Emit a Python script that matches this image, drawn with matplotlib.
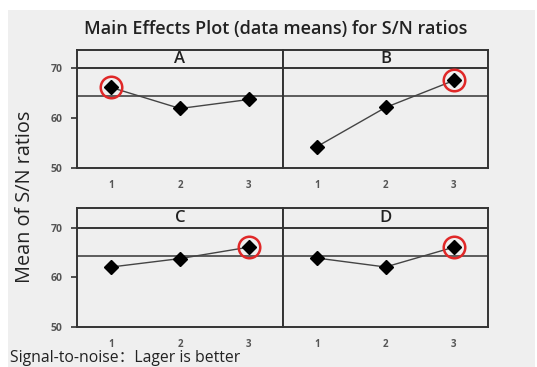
import matplotlib
matplotlib.use('Agg')
import matplotlib.pyplot as plt
from matplotlib.patches import Rectangle

# values
factors = ['A', 'B', 'C', 'D']
levels = [1, 2, 3]
sn_means = {
    'A': [66.1, 61.9, 63.7],
    'B': [54.3, 62.1, 67.5],
    'C': [62.1, 63.8, 66.1],
    'D': [63.9, 62.1, 66.1],
}
best_level = {'A': 1, 'B': 3, 'C': 3, 'D': 3}
grand_mean = 64.4
y_ticks = [50, 60, 70]

W, H = 537, 367
bg = '#efefef'
edge = '#333333'
font = 'Open Sans'

fig = plt.figure(figsize=(W / 100, H / 100), dpi=100)
fig.patch.set_facecolor('white')
fig.add_artist(Rectangle((8 / W, 0), 1 - 10 / W, 1 - 10 / H,
                         transform=fig.transFigure, facecolor=bg,
                         edgecolor='none', zorder=-10))

# panel boxes in pixel coords: (x0, x1, ytop, ybottom)
boxes = [(77, 283, 50, 168), (283, 488, 50, 168),
         (77, 283, 208, 327), (283, 488, 208, 327)]

for k, f in enumerate(factors):
    x0, x1, yt, yb = boxes[k]
    ax = fig.add_axes([x0 / W, 1 - yb / H, (x1 - x0) / W, (yb - yt) / H])
    ax.set_facecolor(bg)
    top = 73.6 if k < 2 else 74
    ax.set_xlim(0.5, 3.5)
    ax.set_ylim(50, top)
    ax.axhline(70, color=edge, lw=1.4)
    ax.axhline(grand_mean, color='#444444', lw=1.2)
    ax.plot(levels, sn_means[f], '-', color='#444444', lw=1.0)
    ax.plot(levels, sn_means[f], 'D', color='black', ms=7)
    b = best_level[f]
    ax.plot(b, sn_means[f][b - 1], 'o', mfc='none', mec='#e02828',
            ms=15.5, mew=1.8)
    ax.text(2, (70 + top) / 2, f, ha='center', va='center',
            fontsize=12, family=font, fontweight='semibold', color='#222222')
    for s in ax.spines.values():
        s.set_color(edge)
        s.set_linewidth(1.4)
    ax.set_xticks(levels)
    ax.set_xticklabels([str(v) for v in levels], fontsize=7,
                       color='#555555', family=font, fontweight='bold')
    ax.tick_params(axis='x', length=0, pad=8.5)
    if k % 2 == 0:
        ax.set_yticks(y_ticks)
        ax.set_yticklabels([str(v) for v in y_ticks], fontsize=7.5,
                           color='#555555', family=font, fontweight='bold')
        ax.tick_params(axis='y', length=4, pad=6.5, color=edge, width=1.2)
    else:
        ax.set_yticks([])

fig.text(276 / W, 1 - 29 / H, 'Main Effects Plot (data means) for S/N ratios',
         ha='center', va='center', fontsize=13, family=font,
         fontweight='semibold', color='#222222')
fig.text(25 / W, 1 - 197 / H, 'Mean of S/N ratios', rotation=90,
         ha='center', va='center', fontsize=14.3, family=font, color='#222222')
fig.text(10 / W, 1 - 358 / H, 'Signal-to-noise\uff1aLager is better',
         ha='left', va='center', fontsize=11.3,
         family=[font, 'Noto Sans CJK SC'], color='#222222')

fig.savefig('out.png', dpi=100)
